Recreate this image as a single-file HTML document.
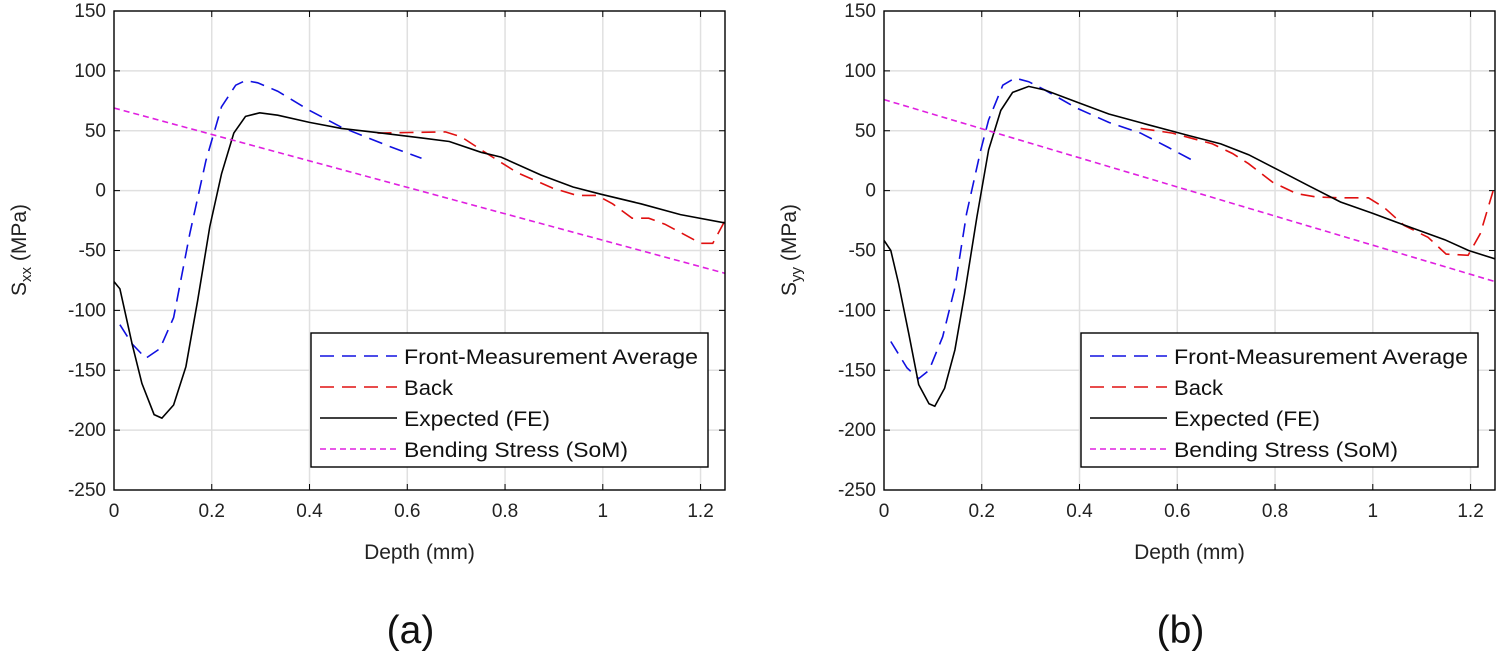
<!DOCTYPE html>
<html><head><meta charset="utf-8"><style>
html,body{margin:0;padding:0;background:#fff;}
svg text{font-family:"Liberation Sans",Arial,sans-serif;}
</style></head><body>
<svg id="fig" width="1500" height="664" viewBox="0 0 1500 664" xmlns="http://www.w3.org/2000/svg"></svg>
<script>
const xTicks=[0,0.2,0.4,0.6,0.8,1,1.2];
const xTickLabels=['0','0.2','0.4','0.6','0.8','1','1.2'];
const yTicks=[150,100,50,0,-50,-100,-150,-200,-250];
const legendLabels=['Front-Measurement Average','Back','Expected (FE)','Bending Stress (SoM)'];
const legendWidths=[294,49,146,224];
// Panel (a)
const aFeX=[0,.012,.037,.057,.082,.098,.122,.147,.171,.196,.22,.245,.269,.298,.335,.4,.465,.547,.629,.686,.751,.792,.874,.939,.996,1.078,1.159,1.25];
const aFeY=[-76,-82,-128,-161,-187,-190,-179,-147,-92,-30,14,48,62,65,63,57,52,48,44,41,32,28,13,3,-3,-11,-20,-27];
const aFrontX=[.012,.037,.065,.094,.122,.155,.188,.22,.249,.269,.294,.335,.4,.465,.514,.563,.629];
const aFrontY=[-112,-128,-140,-132,-106,-36,25,70,88,92,90,83,67,53,45,37,27];
const aBackX=[.539,.604,.678,.71,.759,.825,.898,.947,.988,1.02,1.06,1.094,1.127,1.2,1.225,1.25];
const aBackY=[48,48.5,49,45,32,15,2,-4,-4,-11,-23,-23,-28,-44,-44,-25];
const aSomX=[0,1.25];
const aSomY=[69,-69];
// Panel (b)
const bFeX=[0,.014,.03,.051,.071,.092,.104,.124,.145,.165,.19,.214,.239,.263,.296,.329,.394,.46,.541,.623,.689,.746,.803,.869,.934,1.0,1.073,1.147,1.196,1.25];
const bFeY=[-41.5,-50,-78,-120,-162,-178,-180,-165,-133,-86,-22,34,67,82,87,84,74,64,55,46,39,30,18,4,-9.5,-19,-30,-41,-50,-57];
const bFrontX=[.014,.047,.071,.092,.12,.145,.169,.198,.214,.243,.268,.296,.329,.394,.46,.525,.582,.635];
const bFrontY=[-126,-148,-157,-150,-122,-81,-19,34,59,88,94,91,84,69,57,48,36,24.5];
const bBackX=[.525,.59,.672,.713,.746,.795,.844,.885,.934,.991,1.023,1.064,1.113,1.15,1.195,1.22,1.25];
const bBackY=[52,48,39,31,22.5,7,-2.5,-5.3,-6,-6,-14,-29,-39,-53,-54,-36,5];
const bSomX=[0,1.25];
const bSomY=[76,-76];

const NS='http://www.w3.org/2000/svg';
const svg=document.getElementById('fig');
function mk(tag,attrs,parent){const e=document.createElementNS(NS,tag);for(const k in attrs)e.setAttribute(k,attrs[k]);(parent||svg).appendChild(e);return e;}

function panel(id,x0,ylab,sub,series,caption){
  const g=mk('g',{});
  
  
  const W=611,top=11,bot=490;
  const sx=v=>x0+v/1.25*W;
  const sy=v=>top+(150-v)/400*(bot-top);
  xTicks.forEach((t,i)=>{
    if(t>0){const l=mk('line',{x1:sx(t),x2:sx(t),y1:top,y2:bot,stroke:'#e0e0e0','stroke-width':1.5},g);
    }
    mk('line',{x1:sx(t),x2:sx(t),y1:bot,y2:bot-6,stroke:'#000','stroke-width':1},g);
    mk('line',{x1:sx(t),x2:sx(t),y1:top,y2:top+6,stroke:'#000','stroke-width':1},g);
    const tx=mk('text',{x:sx(t),y:bot+27,'text-anchor':'middle','font-size':19,fill:'#222'},g);
    tx.textContent=xTickLabels[i];
    
  });
  yTicks.forEach(t=>{
    if(t<150&&t>-250){const l=mk('line',{x1:x0,x2:x0+W,y1:sy(t),y2:sy(t),stroke:'#e0e0e0','stroke-width':1.5},g);
    }
    mk('line',{x1:x0,x2:x0+6,y1:sy(t),y2:sy(t),stroke:'#000'},g);
    mk('line',{x1:x0+W,x2:x0+W-6,y1:sy(t),y2:sy(t),stroke:'#000'},g);
    const tx=mk('text',{x:x0-8,y:sy(t)+6,'text-anchor':'end','font-size':19,fill:'#222'},g);
    tx.textContent=String(t);
    
  });
  const cp='clip-'+id;
  const cl=mk('clipPath',{id:cp},g);mk('rect',{x:x0,y:top,width:W,height:bot-top},cl);
  series.forEach(s=>{
    const d=s.x.map((v,i)=>(i?'L':'M')+sx(v).toFixed(1)+','+sy(s.y[i]).toFixed(1)).join(' ');
    const p=mk('path',{d:d,fill:'none',stroke:s.c,'stroke-width':1.6,'stroke-dasharray':s.dash||'none','clip-path':'url(#'+cp+')'},g);
    
    
  });
  const ax=mk('rect',{x:x0,y:top,width:W,height:bot-top,fill:'none',stroke:'#000','stroke-width':1.4},g);
  
  const lx=x0+197,ly=333;
  const lg=mk('g',{},g);
  
  mk('rect',{x:lx,y:ly,width:397,height:134,fill:'#fff',stroke:'#000','stroke-width':1.4},lg);
  series.forEach((s,i)=>{
    const yy=ly+23+i*31;
    mk('line',{x1:lx+9,x2:lx+86,y1:yy,y2:yy,stroke:s.c,'stroke-width':1.6,'stroke-dasharray':s.dash||'none'},lg);
    const t=mk('text',{x:lx+93,y:yy+8,'font-size':21,fill:'#111',textLength:legendWidths[i],lengthAdjust:'spacingAndGlyphs'},lg);
    t.textContent=legendLabels[i];
    
  });
  const xl=mk('text',{x:x0+W/2,y:559,'text-anchor':'middle','font-size':21,fill:'#222'},g);
  xl.textContent='Depth (mm)';
  
  const yl=mk('text',{transform:'translate('+(x0-88)+',250) rotate(-90)','text-anchor':'middle','font-size':21,fill:'#222'},g);
  yl.innerHTML='S<tspan font-size="15" dy="5">'+sub+'</tspan><tspan dy="-5"> (MPa)</tspan>';
  
  const cap=mk('text',{x:x0+W/2-9,y:643,'text-anchor':'middle','font-size':39,fill:'#111'},g);
  cap.textContent=caption;
  
}
panel('panel-a',114,'S','xx',[
  {name:'front-measurement-line',x:aFrontX,y:aFrontY,c:'#1010e0',dash:'14 8'},
  {name:'back-line',x:aBackX,y:aBackY,c:'#e01010',dash:'14 8'},
  {name:'expected-fe-line',x:aFeX,y:aFeY,c:'#000'},
  {name:'bending-stress-line',x:aSomX,y:aSomY,c:'#e020e0',dash:'6 4'}],'(a)');
panel('panel-b',884,'S','yy',[
  {name:'front-measurement-line',x:bFrontX,y:bFrontY,c:'#1010e0',dash:'14 8'},
  {name:'back-line',x:bBackX,y:bBackY,c:'#e01010',dash:'14 8'},
  {name:'expected-fe-line',x:bFeX,y:bFeY,c:'#000'},
  {name:'bending-stress-line',x:bSomX,y:bSomY,c:'#e020e0',dash:'6 4'}],'(b)');
</script>
</body></html>
